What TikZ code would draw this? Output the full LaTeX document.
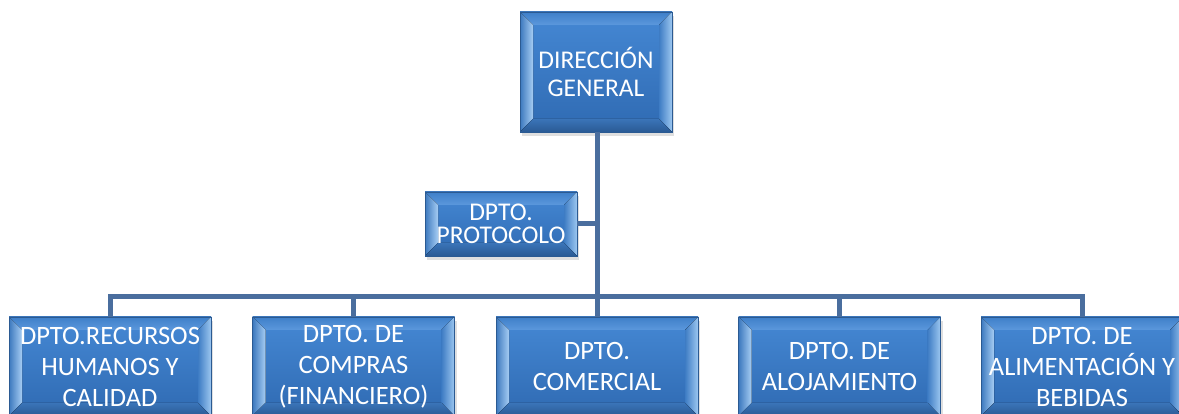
\documentclass[tikz,border=0pt]{standalone}
\usepackage{fontspec}
\setmainfont{Carlito}
\usetikzlibrary{calc,shadows}
\definecolor{mainT}{HTML}{4588D4}
\definecolor{mainB}{HTML}{2F6AB2}
\definecolor{bevedge}{HTML}{2B5A92}
\definecolor{bevT1}{HTML}{3F7FC9}
\definecolor{bevT2}{HTML}{5B98DC}
\definecolor{bevL1}{HTML}{3C78BE}
\definecolor{bevL2}{HTML}{A6CDF3}
\definecolor{bevR1}{HTML}{3E7CC4}
\definecolor{bevR2}{HTML}{9CC7F0}
\definecolor{bevB1}{HTML}{2A5A94}
\definecolor{bevB2}{HTML}{3A74B8}
\definecolor{connc}{HTML}{4A6E9E}
\newcommand{\bevw}{13pt}
\tikzset{
  bevbox/.style={rectangle, draw=bevedge, line width=0.6pt, inner sep=0pt,
    text=white, align=center,
    top color=mainT, bottom color=mainB,
    drop shadow={opacity=0.25, shadow xshift=2pt, shadow yshift=-4pt},
    path picture={
      \path (path picture bounding box.north west) coordinate (pNW)
            (path picture bounding box.north east) coordinate (pNE)
            (path picture bounding box.south west) coordinate (pSW)
            (path picture bounding box.south east) coordinate (pSE);
      \fill[top color=bevT1, bottom color=bevT2] (pNW) -- (pNE) -- ($(pNE)+(-\bevw,-\bevw)$) -- ($(pNW)+(\bevw,-\bevw)$) -- cycle;
      \fill[left color=bevL1, right color=bevL2] (pNW) -- ($(pNW)+(\bevw,-\bevw)$) -- ($(pSW)+(\bevw,\bevw)$) -- (pSW) -- cycle;
      \fill[left color=bevR1, right color=bevR2] (pNE) -- ($(pNE)+(-\bevw,-\bevw)$) -- ($(pSE)+(-\bevw,\bevw)$) -- (pSE) -- cycle;
      \fill[top color=bevB2, bottom color=bevB1] (pSW) -- ($(pSW)+(\bevw,\bevw)$) -- ($(pSE)+(-\bevw,\bevw)$) -- (pSE) -- cycle;
    }},
  topbox/.style={bevbox, minimum width=152pt, minimum height=120pt, font=\fontsize{25.5}{28}\selectfont},
  protobox/.style={bevbox, minimum width=152pt, minimum height=64pt, font=\fontsize{25.5}{23.5}\selectfont},
  deptbox/.style={bevbox, minimum width=202pt, minimum height=99pt, font=\fontsize{26.5}{31}\selectfont},
  conn/.style={draw=connc, line width=5pt}
}
\begin{document}
\begin{tikzpicture}[x=1pt,y=1pt]
\useasboundingbox (0,0) rectangle (1179,414);
\clip (0,0) rectangle (1179,414);
\coordinate (bus) at (597,117);
\node[topbox] (top) at (596,342) {DIRECCIÓN\\GENERAL};
\node[protobox] (proto) at (501,190) {DPTO.\\PROTOCOLO};
\node[deptbox] (b1) at (110,47.5) {DPTO.RECURSOS\\HUMANOS Y\\CALIDAD};
\node[deptbox] (b2) at (353.5,47.5) {DPTO. DE\\COMPRAS\\(FINANCIERO)};
\node[deptbox] (b3) at (597,47.5) {DPTO.\\COMERCIAL};
\node[deptbox] (b4) at (839.5,47.5) {DPTO. DE\\ALOJAMIENTO};
\node[deptbox] (b5) at (1082,47.5) {DPTO. DE\\ALIMENTACIÓN Y\\BEBIDAS};
\draw[conn] (top.south -| bus) -- (bus);
\draw[conn] (proto.east) -- (proto.east -| bus);
\draw[conn] (b1.north) |- (bus) -| (b5.north);
\draw[conn] (b2.north) -- (b2.north |- bus);
\draw[conn] (b3.north) -- (bus);
\draw[conn] (b4.north) -- (b4.north |- bus);
\end{tikzpicture}
\end{document}
